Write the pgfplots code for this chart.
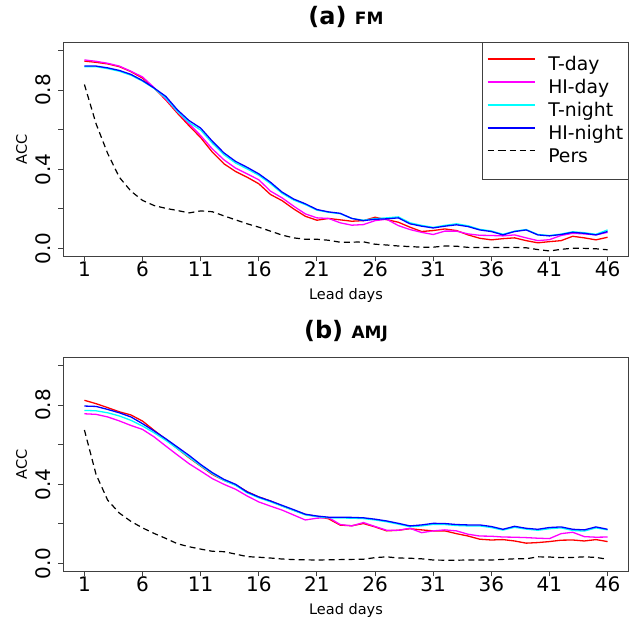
\documentclass[border=0pt]{standalone}
\usepackage{fontspec}
\setmainfont{DejaVu Sans}
\usepackage{graphicx}
\usepackage{pgfplots}
\pgfplotsset{compat=1.18}
\usepackage{pgfplotstable}
\definecolor{Rred}{RGB}{255,0,0}
\definecolor{Rmag}{RGB}{255,0,255}
\definecolor{Rcyan}{RGB}{0,255,255}
\definecolor{Rblue}{RGB}{0,0,255}

\pgfplotstableread{
d tday hiday tnight hinight pers
1 0.946 0.952 0.918 0.921 0.828
2 0.940 0.945 0.918 0.921 0.630
3 0.932 0.935 0.908 0.912 0.480
4 0.918 0.921 0.895 0.899 0.360
5 0.893 0.895 0.875 0.879 0.290
6 0.860 0.866 0.845 0.848 0.243
7 0.810 0.812 0.808 0.810 0.217
8 0.750 0.755 0.760 0.768 0.203
9 0.683 0.690 0.692 0.700 0.192
10 0.620 0.630 0.636 0.646 0.180
11 0.560 0.570 0.598 0.608 0.190
12 0.487 0.503 0.532 0.542 0.186
13 0.428 0.448 0.474 0.483 0.165
14 0.389 0.406 0.432 0.440 0.145
15 0.360 0.377 0.402 0.410 0.125
16 0.327 0.347 0.370 0.377 0.108
17 0.273 0.290 0.328 0.335 0.088
18 0.242 0.256 0.279 0.285 0.068
19 0.200 0.214 0.245 0.250 0.054
20 0.163 0.175 0.222 0.226 0.047
21 0.143 0.155 0.194 0.197 0.047
22 0.152 0.152 0.183 0.185 0.042
23 0.145 0.130 0.176 0.178 0.032
24 0.138 0.118 0.152 0.152 0.032
25 0.141 0.121 0.143 0.141 0.034
26 0.158 0.141 0.151 0.148 0.022
27 0.146 0.148 0.155 0.150 0.018
28 0.133 0.116 0.160 0.155 0.013
29 0.108 0.096 0.130 0.125 0.010
30 0.086 0.082 0.117 0.113 0.007
31 0.091 0.071 0.107 0.104 0.007
32 0.099 0.088 0.117 0.113 0.013
33 0.091 0.088 0.125 0.120 0.012
34 0.069 0.074 0.115 0.111 0.006
35 0.052 0.067 0.097 0.094 0.005
36 0.044 0.066 0.089 0.086 0.006
37 0.050 0.064 0.072 0.069 0.005
38 0.054 0.069 0.088 0.086 0.006
39 0.040 0.054 0.096 0.094 0.004
40 0.029 0.040 0.071 0.069 -0.005
41 0.035 0.045 0.066 0.064 -0.012
42 0.040 0.066 0.073 0.071 -0.004
43 0.062 0.077 0.085 0.082 0.002
44 0.054 0.074 0.080 0.077 0.001
45 0.044 0.069 0.072 0.069 -0.001
46 0.057 0.082 0.094 0.086 -0.006
}\dataa

\pgfplotstableread{
d tday hiday tnight hinight pers
1 0.824 0.756 0.773 0.795 0.674
2 0.807 0.753 0.771 0.793 0.450
3 0.787 0.740 0.761 0.778 0.320
4 0.766 0.720 0.745 0.761 0.255
5 0.750 0.697 0.723 0.740 0.213
6 0.719 0.677 0.694 0.706 0.180
7 0.672 0.639 0.660 0.669 0.152
8 0.627 0.593 0.622 0.630 0.127
9 0.580 0.548 0.580 0.588 0.100
10 0.534 0.504 0.537 0.546 0.085
11 0.492 0.467 0.494 0.500 0.073
12 0.450 0.429 0.454 0.459 0.062
13 0.420 0.400 0.420 0.425 0.060
14 0.397 0.375 0.395 0.400 0.048
15 0.363 0.341 0.357 0.361 0.035
16 0.336 0.311 0.332 0.336 0.032
17 0.316 0.290 0.312 0.316 0.028
18 0.291 0.270 0.290 0.294 0.023
19 0.269 0.245 0.268 0.272 0.020
20 0.248 0.220 0.246 0.249 0.019
21 0.238 0.229 0.237 0.240 0.018
22 0.226 0.232 0.231 0.234 0.019
23 0.194 0.197 0.230 0.234 0.020
24 0.191 0.190 0.229 0.233 0.021
25 0.202 0.207 0.227 0.231 0.022
26 0.185 0.187 0.220 0.224 0.030
27 0.165 0.168 0.211 0.215 0.034
28 0.168 0.168 0.199 0.203 0.028
29 0.176 0.178 0.186 0.190 0.027
30 0.170 0.156 0.190 0.195 0.024
31 0.165 0.165 0.198 0.203 0.018
32 0.165 0.170 0.197 0.202 0.017
33 0.151 0.165 0.192 0.197 0.017
34 0.139 0.148 0.190 0.195 0.018
35 0.123 0.139 0.190 0.195 0.018
36 0.119 0.138 0.182 0.187 0.018
37 0.121 0.134 0.169 0.173 0.021
38 0.114 0.133 0.183 0.188 0.024
39 0.103 0.131 0.174 0.178 0.024
40 0.106 0.128 0.168 0.173 0.034
41 0.111 0.126 0.176 0.182 0.033
42 0.118 0.151 0.180 0.185 0.030
43 0.119 0.158 0.167 0.173 0.031
44 0.114 0.136 0.164 0.170 0.034
45 0.121 0.133 0.180 0.185 0.031
46 0.111 0.134 0.170 0.173 0.022
}\datab

\pgfplotsset{
  panel/.style={
    scale only axis, width=565pt, height=214pt,
    xmin=-0.8, xmax=47.8, ymin=-0.04, ymax=1.04,
    xtick={1,6,11,16,21,26,31,36,41,46},
    xticklabels={1,6,11,16,21,26,31,36,41,46},
    ytick={0,0.2,0.4,0.6,0.8,1},
    yticklabels={\rotatebox{90}{0.0},,\rotatebox{90}{0.4},,\rotatebox{90}{0.8},},
    tick align=outside, tick pos=left, major tick length=5pt,
    axis line style={black!75, line width=0.9pt},
    every tick/.style={black!75, line width=0.9pt},
    ticklabel style={font=\fontsize{20}{22}\selectfont, inner sep=0pt},
    xticklabel style={anchor=north},
    yticklabel style={anchor=east},
    yticklabel shift=8pt,
    xlabel={Lead days}, ylabel={ACC},
    label style={font=\fontsize{14.5}{16}\selectfont},
    xlabel style={at={(axis description cs:0.5,-0.182)}, anchor=center},
    ylabel style={at={(axis description cs:-0.0743,0.5)}, anchor=center},
    title style={at={(axis description cs:0.5,1)}, anchor=center, yshift=20pt},
    legend image code/.code={\path (-12pt,6.5pt) -- (0pt,6.5pt); \draw[#1] (0pt,6.5pt) -- (35pt,6.5pt);},
    legend style={at={(1,1)}, anchor=north east, draw=black!75, line width=0.8pt,
      font=\fontsize{18.8}{20}\selectfont, inner xsep=5pt, inner ysep=13.5pt,
      row sep=5pt, column sep=13pt,
      nodes={inner sep=0pt, text height=14pt, text depth=4pt}},
    legend cell align=left,
  },
  tday/.style={Rred, line width=1.3pt},
  hiday/.style={Rmag, line width=1.3pt},
  tnight/.style={Rcyan, line width=1.3pt},
  hinight/.style={Rblue, line width=1.3pt},
  pers/.style={black, line width=1.2pt, dash pattern=on 6pt off 4pt},
}

\begin{document}
\begin{tikzpicture}
\begin{axis}[panel, name=a, at={(0pt,0pt)}, anchor=north west,
  title={\fontsize{24}{26}\selectfont\bfseries (a) {\fontsize{17}{19}\selectfont FM}}]
  \addplot[tday] table[x=d, y=tday] {\dataa};
  \addplot[hiday] table[x=d, y=hiday] {\dataa};
  \addplot[tnight] table[x=d, y=tnight] {\dataa};
  \addplot[hinight] table[x=d, y=hinight] {\dataa};
  \addplot[pers] table[x=d, y=pers] {\dataa};
  \legend{T-day, HI-day, T-night, HI-night, Pers}
\end{axis}
\begin{axis}[panel, name=b, at={(0pt,-315pt)}, anchor=north west,
  title={\fontsize{24}{26}\selectfont\bfseries (b) {\fontsize{17}{19}\selectfont AMJ}}]
  \addplot[tday] table[x=d, y=tday] {\datab};
  \addplot[hiday] table[x=d, y=hiday] {\datab};
  \addplot[tnight] table[x=d, y=tnight] {\datab};
  \addplot[hinight] table[x=d, y=hinight] {\datab};
  \addplot[pers] table[x=d, y=pers] {\datab};
\end{axis}
\pgfresetboundingbox
\path[use as bounding box] (-63.5pt,42.5pt) rectangle (569.5pt,-574.5pt);
\end{tikzpicture}
\end{document}
